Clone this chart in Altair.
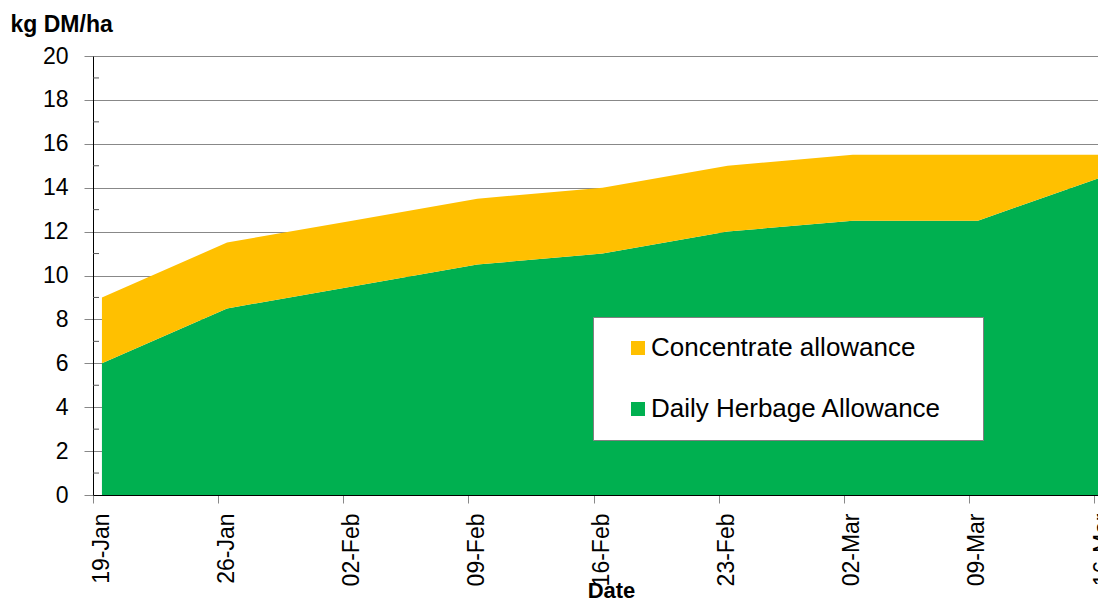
import altair as alt
import pandas as pd

# ---- data ----
dates = ["2009-01-19", "2009-01-26", "2009-02-02", "2009-02-09", "2009-02-16",
         "2009-02-23", "2009-03-02", "2009-03-09", "2009-03-16"]
herbage = [6, 8.5, 9.5, 10.5, 11, 12, 12.5, 12.5, 14.5]
concentrate = [3, 3, 3, 3, 3, 3, 3, 3, 1]
series_names = ["Concentrate allowance", "Daily Herbage Allowance"]
series_colors = ["#FFC000", "#00B050"]
y_ticks = list(range(0, 21, 2))
y_minor = list(range(1, 21, 2))

rows = []
for d, h, c in zip(dates, herbage, concentrate):
    rows.append({"date": d, "series": series_names[1], "value": h, "ord": 0})
    rows.append({"date": d, "series": series_names[0], "value": c, "ord": 1})
df = pd.DataFrame(rows)

def ms(s):
    return int(pd.Timestamp(s, tz="UTC").value // 10**6)

tick_ms = [ms(d) for d in dates]
day = 86400000
x_domain = [ms(dates[0]), ms(dates[0]) + int(56.22 * day)]

font = "Liberation Sans"

y_axis = alt.Axis(values=y_ticks, title="kg DM/ha", titleAngle=0,
                  titleX=-83, titleY=-25, titleAlign="left",
                  titleBaseline="alphabetic", titleFontSize=23,
                  titleFontWeight="bold", labelFontSize=23,
                  labelColor="black", labelPadding=16, tickSize=9,
                  tickColor="#888888", domainColor="black",
                  gridColor="#888888")
y_scale = alt.Scale(domain=[0, 20], nice=False)

areas = alt.Chart(df).transform_calculate(
    t="time(datum.date) + 43200000"
).mark_area(interpolate="linear", clip=True).encode(
    x=alt.X("t:T", scale=alt.Scale(type="utc", domain=x_domain),
            axis=alt.Axis(values=tick_ms, format="%d-%b", labelAngle=-90,
                          labelFontSize=23, labelColor="black", tickSize=8,
                          labelPadding=10, labelOffset=8,
                          tickColor="#888888", domainColor="black",
                          grid=False, title="Date", titleFontSize=22,
                          titleFontWeight="bold", titleX=518, titleY=102,
                          titleBaseline="alphabetic", zindex=1)),
    y=alt.Y("value:Q", stack="zero", scale=y_scale, axis=y_axis),
    color=alt.Color("series:N",
                    scale=alt.Scale(domain=series_names, range=series_colors),
                    legend=alt.Legend(title=" ", titleOrient="right", orient="none",
                                      legendX=500, legendY=261, fillColor="white",
                                      strokeColor="#808080", padding=18,
                                      symbolOffset=14, symbolType="square",
                                      symbolSize=196, symbolStrokeWidth=0,
                                      labelFontSize=26, labelColor="black",
                                      labelLimit=500,
                                      rowPadding=35, labelOffset=0,
                                      titlePadding=24, titleFontSize=20)),
    order=alt.Order("ord:Q"),
)

minor = alt.Chart(pd.DataFrame({"value": y_minor})).mark_rule(color="#555555").encode(
    y=alt.Y("value:Q", scale=y_scale, axis=y_axis),
    x=alt.value(0), x2=alt.value(6),
)

chart = alt.layer(areas, minor).properties(
    width=1005, height=439,
    autosize=alt.AutoSizeParams(type="none"),
    padding={"left": 85, "top": 48, "right": 0, "bottom": 106},
).configure(font=font).configure_view(stroke=None).configure_legend(strokeWidth=1)

chart.save("out.html", embed_options={"renderer": "svg", "actions": False})
